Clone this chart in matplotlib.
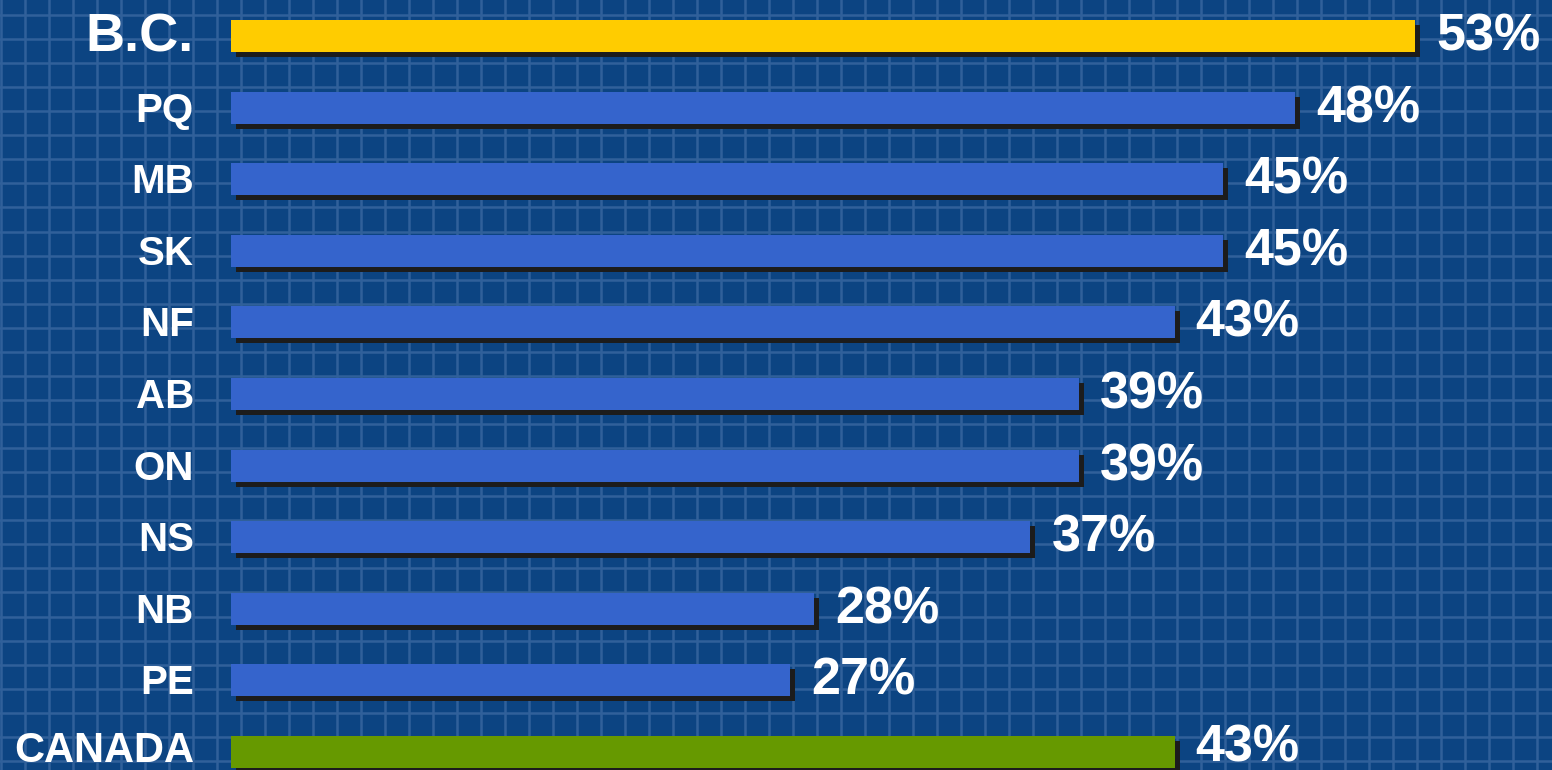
import numpy as np
import matplotlib
matplotlib.use("Agg")
import matplotlib.pyplot as plt
from matplotlib.transforms import ScaledTranslation

# ---- data ----
categories = ["B.C.", "PQ", "MB", "SK", "NF", "AB", "ON", "NS", "NB", "PE", "CANADA"]
values = [53, 48, 45, 45, 43, 39, 39, 37, 28, 27, 43]
value_labels = ["53%", "48%", "45%", "45%", "43%", "39%", "39%", "37%", "28%", "27%", "43%"]

# ---- styles ----
W, H, DPI = 1552, 770, 100
BG = "#0c4482"
GRID = "#30609a"
BLUE = "#3564cc"
YELLOW = "#ffcc00"
GREEN = "#669900"
SHADOW = "#1c1c1c"
colors = [YELLOW] + [BLUE] * 9 + [GREEN]
FONT = ["Liberation Sans", "DejaVu Sans"]

fig = plt.figure(figsize=(W / DPI, H / DPI), dpi=DPI)
fig.patch.set_facecolor(BG)

# background grid (pixel coordinates)
bg = fig.add_axes([0, 0, 1, 1])
bg.set_xlim(0, W)
bg.set_ylim(H, 0)
bg.set_facecolor(BG)
bg.axis("off")
for x in np.arange(1, W, 24.0):
    bg.axvline(x, color=GRID, lw=1.8, zorder=0)
for y in np.arange(15, H, 24.06):
    bg.axhline(y, color=GRID, lw=1.8, zorder=0)

# main axes spans full figure; x maps value -> pixel
px_per_unit = 24.04
zero_px = 141.0
ax = fig.add_axes([0, 0, 1, 1])
ax.patch.set_alpha(0)
ax.set_xlim(-zero_px / px_per_unit, (W - zero_px) / px_per_unit)
row_px = 71.6
first_px = 36.0
ax.set_ylim((H - first_px) / row_px, -first_px / row_px)
ax.axis("off")

base = (231 - zero_px) / px_per_unit
ypos = np.arange(len(categories))
bar_h = 32 / row_px
widths = np.array(values, dtype=float) - base

shadow_tr = ax.transData + ScaledTranslation(5 / DPI, -5 / DPI, fig.dpi_scale_trans)
sh = ax.barh(ypos, widths, left=base, height=bar_h, color=SHADOW, zorder=2)
for p in sh:
    p.set_transform(shadow_tr)
ax.barh(ypos, widths, left=base, height=bar_h, color=colors, zorder=3)

n = len(categories)
for i, (v, lab) in enumerate(zip(values, value_labels)):
    dy = 10 if i == n - 1 else 14.5
    tr = ax.transData + ScaledTranslation(21 / DPI, -dy / DPI, fig.dpi_scale_trans)
    ax.text(v, i, lab, transform=tr, ha="left", va="baseline",
            color="white", fontsize=37.5, fontweight="bold", family=FONT, zorder=4)

for i, c in enumerate(categories):
    if i == 0:
        fs, dy = 39, 16
    elif i == n - 1:
        fs, dy = 30, 10
    else:
        fs, dy = 29, 14
    tr = ax.get_yaxis_transform() + ScaledTranslation(0, -dy / DPI, fig.dpi_scale_trans)
    ax.text(194 / W, i, c, transform=tr, ha="right", va="baseline",
            color="white", fontsize=fs, fontweight="bold", family=FONT, zorder=4)

fig.savefig("out.png", dpi=DPI, facecolor=BG)
